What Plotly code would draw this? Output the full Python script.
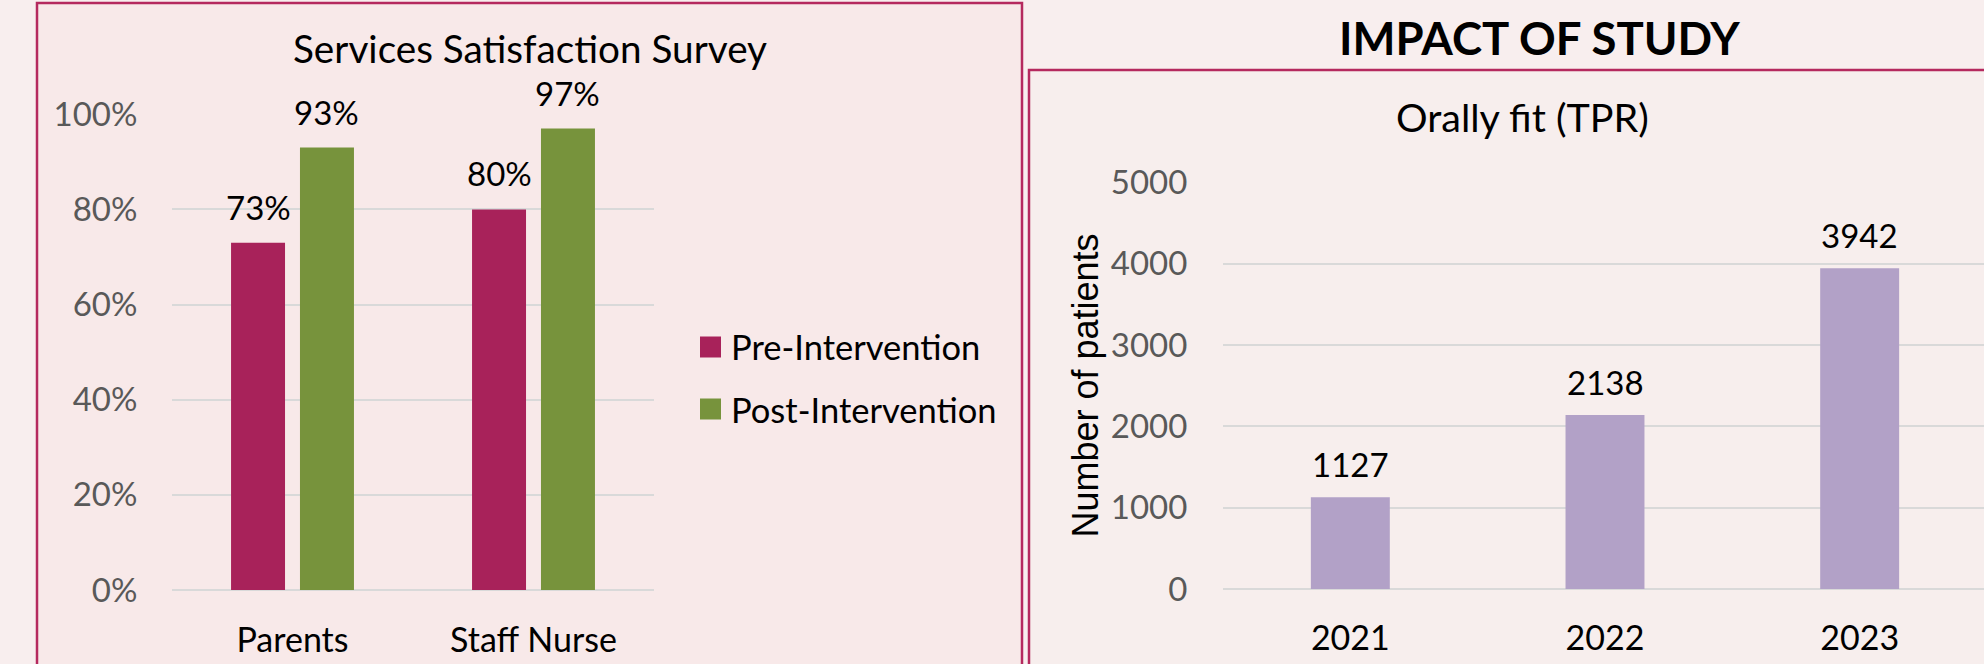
import plotly.graph_objects as go

W, H = 1984, 664

# ---------------- data ----------------
groups = ["Parents", "Staff Nurse"]
series_names = ["Pre-Intervention", "Post-Intervention"]
pre_values = [0.73, 0.80]
post_values = [0.93, 0.97]

years = ["2021", "2022", "2023"]
patients = [1127, 2138, 3942]

left_title = "Services Satisfaction Survey"
right_title = "Orally fit (TPR)"
main_title = "IMPACT OF STUDY"
right_ytitle = "Number of patients"

# ---------------- style ----------------
PRE_C = "#A8225A"
POST_C = "#77933C"
PURPLE = "#B2A1C7"
BORDER = "#B5295E"
GRID = "#D9D9D9"
TICK_C = "#595959"
FONT = "Lato"


def px(x):
    return x / W


def py(y):
    return 1 - y / H


# left plot area in pixels
L_X0, L_X1, L_Y0, L_Y1 = 172, 654, 114, 590
# right plot area in pixels
R_X0, R_X1, R_Y0, R_Y1 = 1223, 1984, 182, 589

bar_w = 0.224
offsets = [-0.255, 0.031]

fig = go.Figure()

for name, vals, col, off in zip(series_names, [pre_values, post_values], [PRE_C, POST_C], offsets):
    fig.add_trace(go.Bar(
        x=groups, y=vals, name=name, marker=dict(color=col, line=dict(width=0)),
        width=bar_w, offset=off, xaxis="x", yaxis="y", showlegend=False,
        hovertemplate="%{x}: %{y:.0%}<extra>" + name + "</extra>",
    ))
    for i, v in enumerate(vals):
        fig.add_annotation(
            x=i + off + bar_w / 2, y=v, xref="x", yref="y", text=f"{v:.0%}", showarrow=False,
            yanchor="bottom", yshift=14,
            font=dict(family=FONT, size=33, color="#000000"),
        )

fig.add_trace(go.Bar(
    x=years, y=patients, name=right_ytitle, marker=dict(color=PURPLE, line=dict(width=0)),
    width=0.31, xaxis="x2", yaxis="y2", showlegend=False,
))
for i, v in enumerate(patients):
    fig.add_annotation(
        x=i, y=v, xref="x2", yref="y2", text=str(v), showarrow=False,
        yanchor="bottom", yshift=11,
        font=dict(family=FONT, size=33, color="#000000"),
    )

# manual legend
leg_y = [347, 409]
for name, col, yy in zip(series_names, [PRE_C, POST_C], leg_y):
    fig.add_shape(type="rect", xref="paper", yref="paper",
                  x0=px(700), x1=px(721), y0=py(yy - 10.5), y1=py(yy + 10.5),
                  fillcolor=col, line=dict(width=0))
    fig.add_annotation(x=px(729), y=py(yy), xref="paper", yref="paper", text=name,
                       showarrow=False, xanchor="left", yanchor="middle",
                       font=dict(family=FONT, size=34.5, color="#000000"))

# boxes
fig.add_shape(type="rect", xref="paper", yref="paper", layer="below",
              x0=px(37), x1=px(1022), y0=py(3), y1=py(720),
              fillcolor="#F8E9E9", line=dict(color=BORDER, width=2.5))
fig.add_shape(type="rect", xref="paper", yref="paper", layer="below",
              x0=px(1029), x1=px(2040), y0=py(70), y1=py(720),
              fillcolor="#F7EEED", line=dict(color=BORDER, width=2.5))

# titles
fig.add_annotation(x=px(530), y=py(48), xref="paper", yref="paper", text=left_title,
                   showarrow=False, xanchor="center", yanchor="middle",
                   font=dict(family=FONT, size=38.7, color="#000000"))
fig.add_annotation(x=px(1522), y=py(117), xref="paper", yref="paper", text=right_title,
                   showarrow=False, xanchor="center", yanchor="middle",
                   font=dict(family=FONT, size=39.5, color="#000000"))
fig.add_annotation(x=px(1539), y=py(37), xref="paper", yref="paper", text=f"<b>{main_title}</b>",
                   showarrow=False, xanchor="center", yanchor="middle",
                   font=dict(family=FONT, size=45.5, color="#000000"))

axis_common = dict(showline=False, ticks="outside", tickcolor="rgba(0,0,0,0)", automargin=False)

fig.update_layout(
    width=W, height=H,
    margin=dict(l=0, r=0, t=0, b=0, autoexpand=False),
    paper_bgcolor="#F8EEEE",
    plot_bgcolor="rgba(0,0,0,0)",
    barmode="overlay",
    showlegend=False,
    xaxis=dict(domain=[px(L_X0), px(L_X1)], anchor="y", type="category",
               range=[-0.5, len(groups) - 0.5], showgrid=False, zeroline=False,
               ticklen=20, tickfont=dict(family=FONT, size=34, color="#000000"),
               **axis_common),
    yaxis=dict(domain=[py(L_Y1), py(L_Y0)], anchor="x", range=[0, 1.0005], dtick=0.2,
               tickformat=".0%", showgrid=True, gridcolor=GRID, gridwidth=2,
               zeroline=True, zerolinecolor=GRID, zerolinewidth=2,
               ticklen=27, tickfont=dict(family=FONT, size=33, color=TICK_C),
               **axis_common),
    xaxis2=dict(domain=[px(R_X0), px(R_X1)], anchor="y2", type="category",
                range=[-0.5, len(years) - 0.5 - 3 / 254.5], showgrid=False, zeroline=False,
                ticklen=19, tickfont=dict(family=FONT, size=34, color="#000000"),
                **axis_common),
    yaxis2=dict(domain=[py(R_Y1), py(R_Y0)], anchor="x2", range=[0, 5003], dtick=1000,
                showgrid=True, gridcolor=GRID, gridwidth=2,
                zeroline=True, zerolinecolor=GRID, zerolinewidth=2,
                ticklen=28, tickfont=dict(family=FONT, size=33, color=TICK_C),
                title=dict(text=right_ytitle, standoff=1,
                           font=dict(family="Liberation Sans", size=36, color="#000000")),
                **axis_common),
)

fig.write_html("out.html")
